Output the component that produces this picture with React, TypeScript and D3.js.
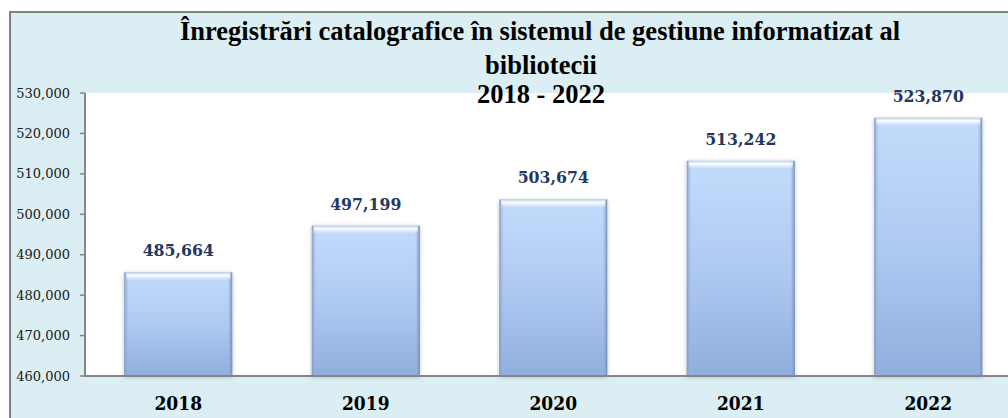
import React from "react";
import * as d3 from "d3";

const years = ["2018", "2019", "2020", "2021", "2022"];
const values = [485664, 497199, 503674, 513242, 523870];
const yTicks = [460000, 470000, 480000, 490000, 500000, 510000, 520000, 530000];
const titleLines = [
  "Înregistrări catalografice în sistemul de gestiune informatizat al",
  "bibliotecii",
  "2018 - 2022",
];

const W = 1008;
const H = 418;
const plotLeft = 85;
const plotTop = 93;
const plotBottom = 376;

export default function App() {
  const x = d3
    .scaleBand<string>()
    .domain(years)
    .range([84.5, 1022])
    .paddingInner(0.424)
    .paddingOuter(0.212);
  const y = d3.scaleLinear().domain([460000, 530000]).range([plotBottom, plotTop]);
  const fmt = d3.format(",");
  const bw = x.bandwidth();
  const labelFont = "'DejaVu Serif Condensed', 'DejaVu Serif', serif";

  return (
    <>
      <style>{"body{margin:0}"}</style>
      <svg width={W} height={H} style={{ display: "block" }}>
        <defs>
          <linearGradient id="barV" x1="0" y1="0" x2="0" y2="1">
            <stop offset="0" stopColor="#C3DBFB" />
            <stop offset="0.5" stopColor="#AFCAF2" />
            <stop offset="1" stopColor="#91ADDD" />
          </linearGradient>
          <linearGradient id="edgeL" x1="0" y1="0" x2="1" y2="0">
            <stop offset="0" stopColor="#7E95BD" stopOpacity="0.9" />
            <stop offset="1" stopColor="#A9C2EA" stopOpacity="0" />
          </linearGradient>
          <linearGradient id="edgeR" x1="1" y1="0" x2="0" y2="0">
            <stop offset="0" stopColor="#6F85AD" stopOpacity="0.95" />
            <stop offset="1" stopColor="#A9C2EA" stopOpacity="0" />
          </linearGradient>
          <linearGradient id="edgeT" x1="0" y1="0" x2="0" y2="1">
            <stop offset="0" stopColor="#B8C9E2" stopOpacity="1" />
            <stop offset="0.35" stopColor="#FFFFFF" stopOpacity="0.95" />
            <stop offset="1" stopColor="#FFFFFF" stopOpacity="0" />
          </linearGradient>
          <filter id="shadow" x="-10%" y="-10%" width="120%" height="120%">
            <feDropShadow dx="0" dy="1" stdDeviation="2" floodColor="#000" floodOpacity="0.25" />
          </filter>
        </defs>
        {/* background frame */}
        <rect x={10} y={12} width={W} height={H} fill="#DAEEF3" stroke="#808080" strokeWidth={2} />
        {/* plot area */}
        <rect x={plotLeft} y={plotTop} width={W - plotLeft} height={plotBottom - plotTop} fill="#FFFFFF" />

        {/* title */}
        <g fontFamily="'Liberation Serif', 'Times New Roman', serif" fontWeight="bold" fontSize={26.5} fill="#000" textAnchor="middle">
          <text x={540} y={40}>{titleLines[0]}</text>
          <text x={541} y={74}>{titleLines[1]}</text>
          <text x={541} y={103}>{titleLines[2]}</text>
        </g>

        {/* bars */}
        {years.map((yr, i) => {
          const bx = x(yr)!;
          const by = y(values[i]);
          const bh = plotBottom - by;
          return (
            <g key={yr}>
              <rect x={bx} y={by} width={bw} height={bh} fill="url(#barV)" filter="url(#shadow)" />
              <rect x={bx} y={by} width={5} height={bh} fill="url(#edgeL)" />
              <rect x={bx + bw - 5} y={by} width={5} height={bh} fill="url(#edgeR)" />
              <rect x={bx + 2} y={by} width={bw - 4} height={8} fill="url(#edgeT)" />
            </g>
          );
        })}

        {/* data labels */}
        <g fontFamily={labelFont} fontStretch="condensed" fontWeight="bold" fontSize={17.5} fill="#1F3864" textAnchor="middle">
          {years.map((yr, i) => (
            <text key={yr} x={x(yr)! + bw / 2} y={y(values[i]) - 16}>
              {fmt(values[i])}
            </text>
          ))}
        </g>

        {/* axes */}
        <line x1={plotLeft} x2={plotLeft} y1={plotTop} y2={plotBottom} stroke="#868686" strokeWidth={2} />
        <line x1={plotLeft - 1} x2={W} y1={plotBottom} y2={plotBottom} stroke="#868686" strokeWidth={2} />
        {yTicks.map((t) => (
          <g key={t}>
            <line x1={plotLeft - 5} x2={plotLeft} y1={y(t)} y2={y(t)} stroke="#868686" strokeWidth={1.5} />
            <text
              x={70}
              y={y(t) + 4.5}
              textAnchor="end"
              fontFamily="'DejaVu Serif', serif"
              fontSize={13}
              fill="#1A1A1A"
            >
              {fmt(t)}
            </text>
          </g>
        ))}
        <g fontFamily={labelFont} fontStretch="condensed" fontWeight="bold" fontSize={19} fill="#000" textAnchor="middle">
          {years.map((yr) => (
            <text key={yr} x={x(yr)! + bw / 2} y={410}>
              {yr}
            </text>
          ))}
        </g>
      </svg>
    </>
  );
}
